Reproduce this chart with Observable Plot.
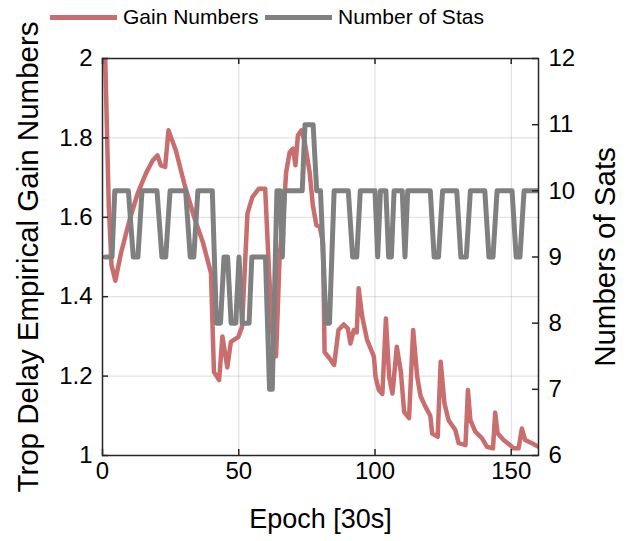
<!DOCTYPE html>
<html><head><meta charset="utf-8">
<script src="https://cdn.jsdelivr.net/npm/d3@7"></script>
<script src="https://cdn.jsdelivr.net/npm/@observablehq/plot@0.6"></script>
<style>
body{margin:0;background:#fff;}
#wrap{position:relative;width:639px;height:541px;font-family:"Liberation Sans",Arial,sans-serif;color:#000;}
.leg{position:absolute;top:4px;height:26px;display:flex;align-items:center;font-size:21px;white-space:nowrap;}
.sw{display:inline-block;width:67px;height:5px;margin-right:6px;}
</style></head><body>
<div id="wrap"></div>
<script>
const gainEpoch=[1,2.3,3.3,4.7,6.8,9.8,12.9,15.9,18.4,20.2,21.4,23,24.2,26.9,30,33.8,36.8,39.8,40.9,42.8,44,45.8,47.1,49.8,51.2,53.2,55,57.4,59.7,61.2,62.8,63.7,65,66.2,67.4,68.7,69.9,70.8,71.7,73,74.2,76,77.2,78.5,79.7,80.9,81.5,83.3,85,86.6,88.5,90,91,92.2,93.3,94,95.3,97.1,99.6,100.2,101.4,102.7,104,105.2,106.4,108,109.5,110.7,112.5,114,115.5,116.7,118.5,120.3,121,123,124.1,125.5,127,129.5,130.7,133.2,134.1,135,136.8,139.3,141.1,143.3,144.1,145,147.2,149.6,150.8,152.7,153.9,155.1,157.6,160];
const gainValue=[2.0,1.63,1.48,1.44,1.51,1.59,1.66,1.71,1.743,1.756,1.731,1.727,1.819,1.769,1.685,1.597,1.538,1.46,1.21,1.19,1.30,1.222,1.286,1.298,1.324,1.61,1.651,1.672,1.672,1.45,1.25,1.25,1.50,1.588,1.714,1.764,1.773,1.731,1.806,1.819,1.79,1.714,1.63,1.58,1.576,1.538,1.26,1.245,1.228,1.316,1.33,1.32,1.282,1.316,1.31,1.421,1.35,1.291,1.249,1.198,1.165,1.155,1.345,1.198,1.156,1.274,1.21,1.11,1.094,1.316,1.198,1.15,1.123,1.10,1.055,1.047,1.236,1.131,1.089,1.064,1.031,1.026,1.165,1.089,1.06,1.043,1.022,1.018,1.108,1.056,1.039,1.026,1.018,1.018,1.068,1.039,1.031,1.022];
const satsEpoch=[1,3.5,4.5,9.5,11.3,13,14.5,20,21.8,23.2,24.8,30.5,32.2,33.5,35,40.3,41.8,43.3,44.6,45.9,47.2,48.9,50.1,51.3,53.8,54.8,59.8,61.3,62.3,64,65.2,66,66.8,73.3,74.3,77.3,78.6,80,82,83.3,85,90.2,91.8,93.3,94.6,100,101,102,104,105,106,107,110,111,112,120.3,121.7,123.3,124.8,130,131.5,133.5,135,140.3,141.8,143.3,144.8,150.3,151.8,153.2,154.7,160];
const satsCount=[9,9,10,10,9,9,10,10,9,9,10,10,9,9,10,10,8,8,9,9,8,8,9,8,8,9,9,7,7,10,10,9,10,10,11,11,10,10,8,8,10,10,9,9,10,10,9,10,10,9,9,10,10,9,10,10,9,9,10,10,9,9,10,10,9,9,10,10,9,9,10,10];
const xTicks=[0,50,100,150];
const gainTicks=[1,1.2,1.4,1.6,1.8,2];
const satsTicks=[6,7,8,9,10,11,12];
const seriesNames=["Gain Numbers","Number of Stas"];
const xLabel="Epoch [30s]";
const yLeftLabel="Trop Delay Empirical Gain Numbers";
const yRightLabel="Numbers of Sats";

const RED="#c86e6e", GRAY="#808080";
const satsToGain=s=>1+(s-6)/6;
const gainData=gainEpoch.map((e,i)=>({e,v:gainValue[i]}));
const satsData=satsEpoch.map((e,i)=>({e,v:satsToGain(satsCount[i])}));
const FONT='"Liberation Sans",Arial,sans-serif';
const W=639,H=541,ML=102,MR=101,MT=58,MB=86;
const FW=W-ML-MR, FH=H-MT-MB, TK=6;

const chart=Plot.plot({
  width:W,height:H,marginLeft:ML,marginRight:MR,marginTop:MT,marginBottom:MB,
  x:{domain:[0,160]},
  y:{domain:[1,2]},
  style:{fontFamily:FONT,fontSize:"24px",color:"#000",background:"#fff"},
  marks:[
    Plot.gridX(xTicks.slice(1),{stroke:"#000",strokeOpacity:0.14,strokeWidth:1}),
    Plot.gridY(gainTicks.slice(1,-1),{stroke:"#000",strokeOpacity:0.14,strokeWidth:1}),
    Plot.line(gainData,{x:"e",y:"v",stroke:RED,strokeWidth:4.5,strokeLinejoin:"round",clip:true}),
    Plot.line(satsData,{x:"e",y:"v",stroke:GRAY,strokeWidth:5,strokeLinejoin:"round",clip:true}),
    Plot.frame({stroke:"#262626",strokeWidth:1.5}),
    Plot.ruleX(xTicks,{x:d=>d,insetTop:FH-TK,stroke:"#262626",strokeWidth:1.5}),
    Plot.ruleX(xTicks,{x:d=>d,insetBottom:FH-TK,stroke:"#262626",strokeWidth:1.5}),
    Plot.ruleY(gainTicks,{y:d=>d,insetRight:FW-TK,stroke:"#262626",strokeWidth:1.5}),
    Plot.ruleY(satsTicks.map(satsToGain),{y:d=>d,insetLeft:FW-TK,stroke:"#262626",strokeWidth:1.5}),
    Plot.axisX(xTicks,{anchor:"bottom",tickSize:0,tickPadding:6,label:null,fontSize:24}),
    Plot.axisY(gainTicks,{anchor:"left",tickSize:0,tickPadding:10,label:null,fontSize:24,tickFormat:d=>String(+d.toFixed(1))}),
    Plot.axisY(satsTicks.map(satsToGain),{anchor:"right",tickSize:0,tickPadding:10,label:null,fontSize:24,tickFormat:d=>String(Math.round((d-1)*6+6))}),
    Plot.text([xLabel],{text:d=>d,frameAnchor:"bottom",textAnchor:"middle",lineAnchor:"middle",dy:64,fontSize:27}),
    Plot.text([yLeftLabel],{text:d=>d,frameAnchor:"left",textAnchor:"middle",lineAnchor:"middle",dx:-74,rotate:-90,fontSize:29.5}),
    Plot.text([yRightLabel],{text:d=>d,frameAnchor:"right",textAnchor:"middle",lineAnchor:"middle",dx:67,rotate:-90,fontSize:29.5})
  ]
});
const wrap=document.getElementById("wrap");
wrap.appendChild(chart);
const legDefs=[{name:seriesNames[0],color:RED,left:50},{name:seriesNames[1],color:GRAY,left:265}];
for(const d of legDefs){
  const div=document.createElement("div");
  div.className="leg";div.style.left=d.left+"px";
  const sw=document.createElement("span");sw.className="sw";sw.style.background=d.color;
  const t=document.createElement("span");t.textContent=d.name;
  div.appendChild(sw);div.appendChild(t);wrap.appendChild(div);
}
</script>
</body></html>
